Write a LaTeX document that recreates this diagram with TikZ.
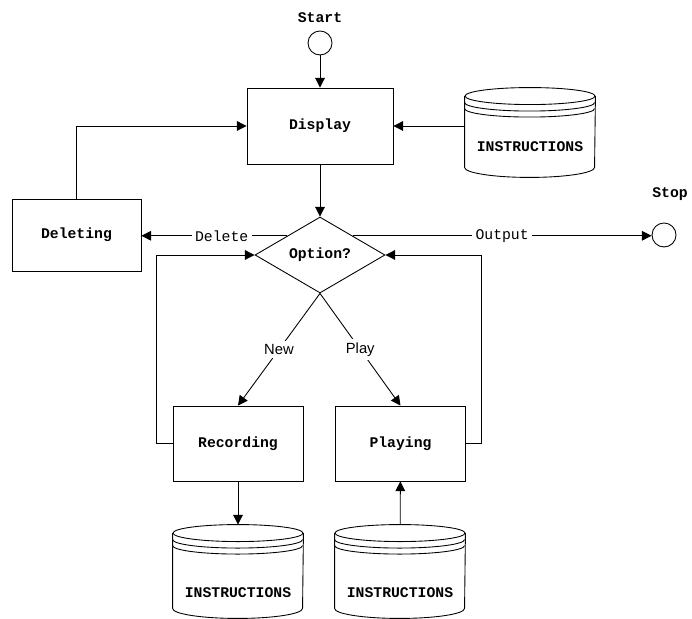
\documentclass[tikz,border=0pt]{standalone}
\usepackage{fontspec}
\setmonofont{Liberation Mono}
\setsansfont{Liberation Sans}
\usetikzlibrary{shapes.geometric, arrows.meta, calc}

\begin{document}
\begin{tikzpicture}[x=0.02cm, y=0.02cm, line width=0.5pt, >={Triangle[length=5.5pt,width=5.5pt]},
    every node/.style = {font=\ttfamily\bfseries\fontsize{8.4}{10}\selectfont},
    main/.style = {draw, rectangle, minimum width=2.6cm, minimum height=1.5cm},
    term/.style = {draw, circle, minimum size=0.48cm, inner sep=0pt},
    choice/.style = {draw, diamond, minimum width=2.6cm, minimum height=1.52cm, inner sep=0pt},
    store/.style = {minimum width=2.6cm, inner sep=0pt, text depth=0pt},
    lbl/.style = {fill=white, inner sep=2pt, font=\ttfamily\fontsize{8.4}{10}\selectfont},
    cond/.style = {fill=white, inner sep=2pt, font=\sffamily\fontsize{8.4}{10}\selectfont}]

            \useasboundingbox (0,0) rectangle (692,618);

            % Nodes
            \node (startlbl) at (320,600) {Start};
            \node[term] (start) at (320,575) {};
            \node[main, minimum width=2.92cm, minimum height=1.52cm] (display) at (320,492) {Display};
            \node[store, minimum height=1.78cm, text height=21.8pt] (dbtop) at (530,485.5) {INSTRUCTIONS};
            \node[main, minimum width=2.58cm, minimum height=1.44cm] (deleting) at (76.5,383) {Deleting};
            \node[choice] (option) at (320,363) {Option?};
            \node[term] (stop) at (664,383) {};
            \node (stoplbl) at (670,424) {Stop};
            \node[main] (recording) at (238,174.5) {Recording};
            \node[main] (playing) at (400.5,174.5) {Playing};
            \node[store, minimum height=1.86cm, text height=29.2pt] (dbrec) at (238,46.5) {INSTRUCTIONS};
            \node[store, minimum height=1.86cm, text height=29.2pt] (dbplay) at (400,46.5) {INSTRUCTIONS};

            % Database outlines
            \foreach \db in {dbtop, dbrec, dbplay} {
                \draw ($(\db.north)+(0,-8.5)$) ellipse [x radius=1.3cm, y radius=0.17cm];
                \draw ($(\db.north west)+(0,-15)$) arc [start angle=180, end angle=360, x radius=1.3cm, y radius=0.17cm];
                \draw ($(\db.north west)+(0,-21)$) arc [start angle=180, end angle=360, x radius=1.3cm, y radius=0.17cm];
                \draw ($(\db.north west)+(0,-8.5)$) -- ($(\db.south west)+(0,10)$)
                    arc [start angle=180, end angle=360, x radius=1.3cm, y radius=0.2cm]
                    -- ($(\db.north east)+(0,-8.5)$);
            }

            % Edges
            \draw[->] (start) -- (display);
            \draw[->] (display) -- (option);
            \draw[->] (dbtop.west |- display) -- (display);
            \draw[->] (deleting) |- (display);
            \draw[->] (option.north west) -- node[lbl, pos=0.45] {Delete} (option.north west -| deleting.east);
            \draw[->] (option.north east) -- node[lbl] {Output} (option.north east -| stop.west);
            \draw[->] (option.south) -- node[cond] {New} (recording.north);
            \draw[->] (option.south) -- node[cond] {Play} (playing.north);
            \draw[->] (recording.west) -- ++(-16,0) |- (option.west);
            \draw[->] (playing.east) -- ++(16,0) |- (option.east);
            \draw[->] (recording) -- (dbrec);
            \draw[->] (dbplay) -- (playing);
        \end{tikzpicture}
\end{document}
